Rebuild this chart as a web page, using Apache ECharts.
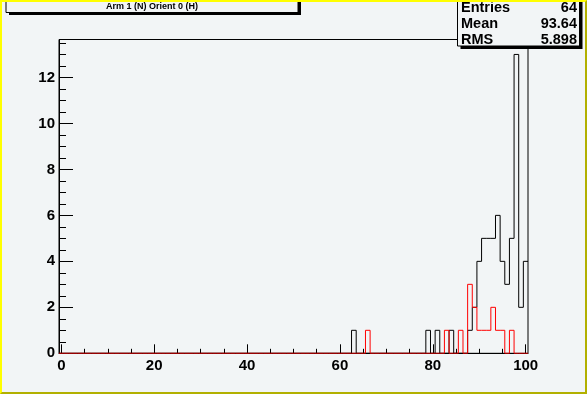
<!DOCTYPE html>
<html>
<head>
<meta charset="utf-8">
<script src="https://cdn.jsdelivr.net/npm/echarts@6/dist/echarts.min.js"></script>
<style>
html,body{margin:0;padding:0;background:#f2f5f6;}
#c{width:587px;height:394px;}
</style>
</head>
<body>
<div id="c"></div>
<script>
// Histogram: 101 bins of width 1, centred on integers 0..100
var binCount = 101;
var blackBins   = [63, 79, 81, 84, 88, 89, 90, 91, 92, 93, 94, 95, 96, 97, 98, 99, 100];
var blackCounts = [ 1,  1,  1,  1,  1,  2,  4,  5,  5,  5,  6,  4,  3,  5, 13,  2,   4];
var redBins     = [66, 83, 86, 88, 89, 90, 91, 92, 93, 94, 95, 97];
var redCounts   = [ 1,  1,  1,  3,  2,  1,  1,  1,  2,  1,  1,  1];
var xMajorTicks = [0, 20, 40, 60, 80, 100];
var xMinorTicks = [5, 10, 15, 25, 30, 35, 45, 50, 55, 65, 70, 75, 85, 90, 95];
var yMajorTicks = [0, 2, 4, 6, 8, 10, 12];
var yMinorTicks = [0.5, 1, 1.5, 2.5, 3, 3.5, 4.5, 5, 5.5, 6.5, 7, 7.5, 8.5, 9, 9.5, 10.5, 11, 11.5, 12.5, 13, 13.5];
var titleText = 'Arm 1 (N) Orient 0 (H)';
var statNames  = ['Entries', 'Mean', 'RMS'];
var statValues = ['64', '93.64', '5.898'];

function stepPoints(bins, counts) {
  var full = [];
  for (var i = 0; i < binCount; i++) full.push(0);
  for (var j = 0; j < bins.length; j++) full[bins[j]] = counts[j];
  // one point per bin edge; the value belongs to the bin starting at that edge
  var pts = [[-0.5, 0]];
  for (var k = 0; k < binCount; k++) pts.push([k + 0.5, full[k]]);
  return pts;
}

var bg = '#f2f5f6';
var F = 'Liberation Sans, Arial, sans-serif';
var chart = echarts.init(document.getElementById('c'), null, {renderer: 'canvas'});

var graphics = [
  // title box
  {type: 'rect', shape: {x: 9, y: -7, width: 292, height: 22}, style: {fill: '#000'}, z: 10},
  {type: 'rect', shape: {x: 6, y: -10, width: 292, height: 22.5}, style: {fill: bg, stroke: '#000', lineWidth: 1}, z: 11},
  {type: 'text', x: 152, y: 7, style: {text: titleText, font: 'bold 9px ' + F, fill: '#000', align: 'center', verticalAlign: 'middle'}, z: 12},
  // stats box
  {type: 'rect', shape: {x: 460.5, y: -7, width: 122, height: 56}, style: {fill: '#000'}, z: 10},
  {type: 'rect', shape: {x: 457.5, y: -10, width: 122, height: 56}, style: {fill: bg, stroke: '#000', lineWidth: 1}, z: 11},
  // canvas border
  {type: 'rect', shape: {x: 0, y: 0, width: 587, height: 2}, style: {fill: '#ffff00'}, z: 20},
  {type: 'rect', shape: {x: 0, y: 0, width: 2, height: 394}, style: {fill: '#ffff00'}, z: 20},
  {type: 'polygon', shape: {points: [[0, 394], [587, 394], [587, 0], [585, 2], [585, 392], [2, 392]]}, style: {fill: '#b2b000'}, z: 20}
];
var rowsY = [8, 24, 40];
for (var s = 0; s < statNames.length; s++) {
  graphics.push({type: 'text', x: 461, y: rowsY[s], style: {text: statNames[s], font: 'bold 14.5px ' + F, fill: '#000', align: 'left', verticalAlign: 'middle'}, z: 12});
  graphics.push({type: 'text', x: 577, y: rowsY[s], style: {text: statValues[s], font: 'bold 14.5px ' + F, fill: '#000', align: 'right', verticalAlign: 'middle'}, z: 12});
}

var labelStyle = {color: '#000', fontFamily: F, fontWeight: 'bold', fontSize: 15};

chart.setOption({
  animation: false,
  backgroundColor: bg,
  grid: {left: 59, right: 59, top: 39.5, bottom: 40.7, show: true, borderColor: '#000', borderWidth: 1, backgroundColor: 'transparent'},
  xAxis: [
    {type: 'value', min: -0.5, max: binCount - 0.5, position: 'bottom',
     axisLine: {show: true, onZero: false, lineStyle: {color: '#000', width: 1}},
     axisTick: {show: true, inside: true, length: 9, customValues: xMajorTicks, lineStyle: {color: '#000'}},
     axisLabel: Object.assign({show: true, margin: 5, customValues: xMajorTicks}, labelStyle),
     splitLine: {show: false}},
    {type: 'value', min: -0.5, max: binCount - 0.5, position: 'bottom',
     axisLine: {show: false, onZero: false},
     axisTick: {show: true, inside: true, length: 4.5, customValues: xMinorTicks, lineStyle: {color: '#000'}},
     axisLabel: {show: false},
     splitLine: {show: false}}
  ],
  yAxis: [
    {type: 'value', min: 0, max: 13.65, position: 'left',
     axisLine: {show: true, onZero: false, lineStyle: {color: '#000', width: 1}},
     axisTick: {show: true, inside: true, length: 14, customValues: yMajorTicks, lineStyle: {color: '#000'}},
     axisLabel: Object.assign({show: true, margin: 4, customValues: yMajorTicks}, labelStyle),
     splitLine: {show: false}},
    {type: 'value', min: 0, max: 13.65, position: 'left',
     axisLine: {show: false, onZero: false},
     axisTick: {show: true, inside: true, length: 7, customValues: yMinorTicks, lineStyle: {color: '#000'}},
     axisLabel: {show: false},
     splitLine: {show: false}}
  ],
  series: [
    {type: 'line', xAxisIndex: 0, yAxisIndex: 0, step: 'start', symbol: 'none',
     data: stepPoints(blackBins, blackCounts),
     lineStyle: {color: '#000', width: 1}, z: 3},
    {type: 'line', xAxisIndex: 0, yAxisIndex: 0, step: 'start', symbol: 'none',
     data: stepPoints(redBins, redCounts),
     lineStyle: {color: '#ff0000', width: 1}, z: 4}
  ],
  graphic: graphics
});
</script>
</body>
</html>
